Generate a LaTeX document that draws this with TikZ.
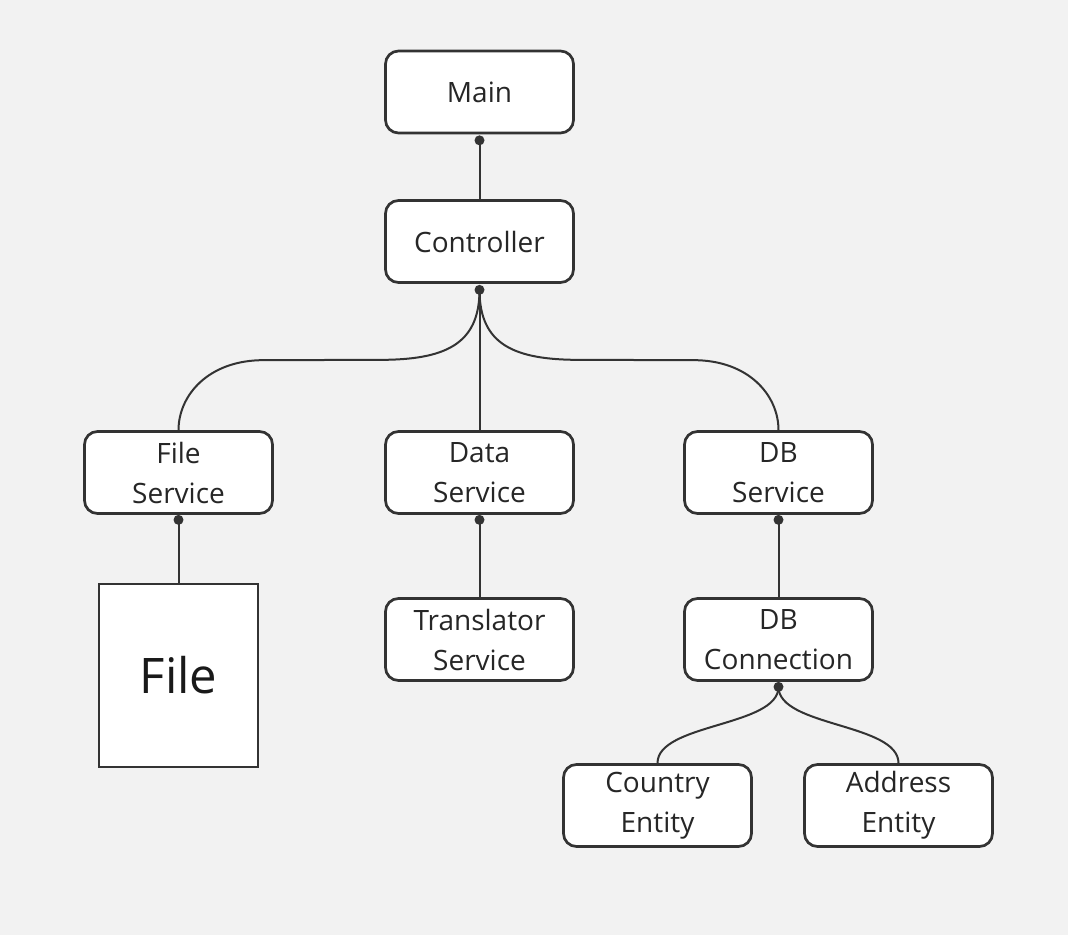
\documentclass[tikz,border=0pt]{standalone}
\usepackage{fontspec}
\setmainfont{Open Sans}
\usetikzlibrary{positioning}
\usetikzlibrary{calc}
\definecolor{bggrey}{HTML}{F2F2F2}
\definecolor{ink}{HTML}{333333}

\begin{document}
\begin{tikzpicture}[x=1pt,y=-1pt,
	box/.style={draw=ink, fill=white, line width=2.7pt, rounded corners=13pt,
		minimum width=188pt, minimum height=82pt, inner sep=0pt, align=center,
		text=black!85, font=\fontsize{28}{40}\selectfont},
	sheet/.style={draw=ink, fill=white, line width=2.7pt, minimum width=159pt,
		minimum height=183pt, inner sep=0pt, text=black!90, font=\fontsize{49}{56}\selectfont},
	link/.style={draw=ink, line width=2pt},
	pin/.style={fill=ink}]

	\fill[bggrey] (0,0) rectangle (1068,935);
	\useasboundingbox (0,0) rectangle (1068,935);

	% boxes
	\node[box] (main) at (479.5,92) {Main};
	\node[box] (ctrl) at (479.5,241.5) {Controller};
	\node[box] (filesvc) at (178.5,472.5) {File\\Service};
	\node[box] (datasvc) at (479.5,472.5) {Data\\Service};
	\node[box] (dbsvc) at (778.5,472.5) {DB\\Service};
	\node[box] (transsvc) at (479.5,639.5) {Translator\\Service};
	\node[box] (dbconn) at (778.5,639.5) {DB\\Connection};
	\node[sheet] (file) at (178.5,675.5) {File};
	\node[box] (country) at (657.5,805.5) {Country\\Entity};
	\node[box] (address) at (898.5,805.5) {Address\\Entity};

	% pins under the parents
	\coordinate (mainpin) at ([yshift=-6pt]main.south);
	\coordinate (ctrlpin) at ([yshift=-6pt]ctrl.south);
	\coordinate (filepin) at ([yshift=-5pt]filesvc.south);
	\coordinate (datapin) at ([yshift=-5pt]datasvc.south);
	\coordinate (dbpin) at ([yshift=-5pt]dbsvc.south);
	\coordinate (connpin) at ([yshift=-5pt]dbconn.south);

	% connectors
	\draw[link] (mainpin) -- (ctrl.north);
	\draw[link] (ctrlpin) -- (datasvc.north);
	\draw[link] (ctrlpin) .. controls +(0,55) and +(65,0) .. ($(ctrlpin)+(-100,70)$)
		-- ($(filesvc.north)+(85,-70)$) .. controls +(-55,0) and +(0,-35) .. (filesvc.north);
	\draw[link] (ctrlpin) .. controls +(0,55) and +(-65,0) .. ($(ctrlpin)+(100,70)$)
		-- ($(dbsvc.north)+(-85,-70)$) .. controls +(55,0) and +(0,-35) .. (dbsvc.north);
	\draw[link] (filepin) -- (file.north);
	\draw[link] (datapin) -- (transsvc.north);
	\draw[link] (dbpin) -- (dbconn.north);
	\draw[link] (connpin) .. controls +(0,40) and +(0,-40) .. (country.north);
	\draw[link] (connpin) .. controls +(0,40) and +(0,-40) .. (address.north);

	\foreach \p in {mainpin,ctrlpin,filepin,datapin,dbpin,connpin}
		\fill[pin] (\p) circle (5pt);

\end{tikzpicture}
\end{document}
